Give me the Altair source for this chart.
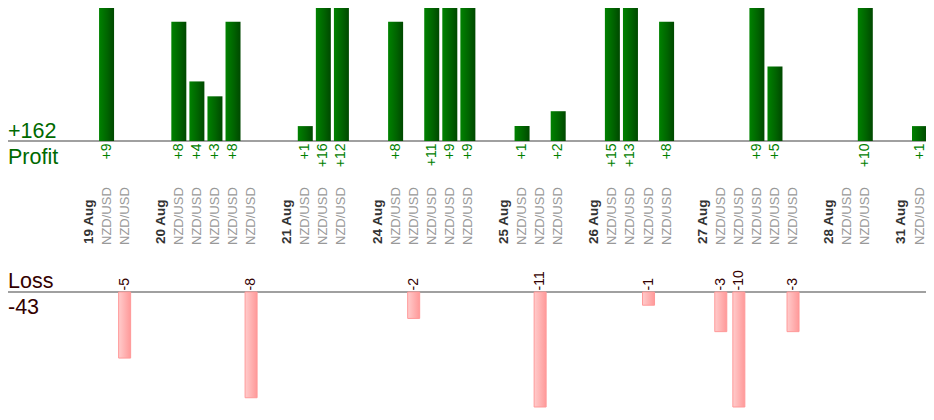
import altair as alt
import pandas as pd

days = ["19 Aug", "20 Aug", "21 Aug", "24 Aug", "25 Aug", "26 Aug", "27 Aug", "28 Aug", "31 Aug"]
trades = [
    [9, -5],
    [8, 4, 3, 8, -8],
    [1, 16, 12],
    [8, -2, 11, 9, 9],
    [1, -11, 2],
    [15, 13, -1, 8],
    [-3, -10, 9, 5, -3],
    [0, 10],
    [1],
]
pair = "NZD/USD"

rows = []
slot = 0
for d, t in zip(days, trades):
    rows.append({"slot": slot, "kind": "date", "label": d, "pnl": 0})
    slot += 1
    for v in t:
        rows.append({"slot": slot, "kind": "trade", "label": pair, "pnl": v})
        slot += 1
    slot += 1
df = pd.DataFrame(rows)
last_slot = int(df["slot"].max())

trades_df = df[df.kind == "trade"]
prof = trades_df[trades_df.pnl > 0].copy()
prof["txt"] = prof.pnl.map(lambda v: f"+{v}")
loss = trades_df[trades_df.pnl < 0].copy()
loss["mag"] = -loss.pnl
loss["txt"] = loss.pnl.map(lambda v: f"{v}")
dates_df = df[df.kind == "date"]

total_profit = int(prof.pnl.sum())
total_loss = int(loss.pnl.sum())

W, H = 918, 404
FONT = "Liberation Sans"
xs = alt.X("slot:Q", scale=alt.Scale(domain=[0, last_slot], range=[80.5, 911.5], nice=False, zero=False, padding=0),
           axis=None)

green_grad = alt.Gradient(
    gradient="linear",
    stops=[alt.GradientStop(color="#008200", offset=0), alt.GradientStop(color="#006400", offset=0.55),
           alt.GradientStop(color="#004800", offset=1)],
    x1=0, x2=1, y1=0, y2=0,
)
pink_grad = alt.Gradient(
    gradient="linear",
    stops=[alt.GradientStop(color="#ffcccc", offset=0), alt.GradientStop(color="#ff9999", offset=1)],
    x1=0, x2=1, y1=0, y2=0,
)

one = pd.DataFrame({"a": [0]})

base_line_p = alt.Chart(one).mark_rule(color="#808080", strokeWidth=1.5).encode(
    x=alt.value(0), x2=alt.value(W), y=alt.value(133))
base_line_l = alt.Chart(one).mark_rule(color="#808080", strokeWidth=1.5).encode(
    x=alt.value(0), x2=alt.value(W), y=alt.value(284))

pbars = alt.Chart(prof).mark_bar(width=15, color=green_grad).encode(
    x=xs,
    y=alt.Y("pnl:Q", scale=alt.Scale(domain=[0, 8.93], range=[133, 0], clamp=True, nice=False, padding=0),
            axis=None),
)
lbars = alt.Chart(loss).mark_bar(width=12, color=pink_grad, stroke="#ff9999", strokeWidth=1).encode(
    x=xs,
    y=alt.Y("mag:Q", scale=alt.Scale(domain=[0, 8.7], range=[284, 399], clamp=True, nice=False, padding=0),
            axis=None),
)

ptext = alt.Chart(prof).mark_text(angle=270, align="right", baseline="middle", fontSize=14,
                                  color="#008000", font=FONT).encode(
    x=xs, y=alt.value(135.5), text="txt:N")
ltext = alt.Chart(loss).mark_text(angle=270, align="left", baseline="middle", fontSize=14,
                                  color="#330000", font=FONT).encode(
    x=xs, y=alt.value(282.5), text="txt:N")

dtext = alt.Chart(dates_df).mark_text(angle=270, align="left", baseline="middle", fontSize=13.5,
                                      fontWeight="bold", color="#333333", font=FONT).encode(
    x=xs, y=alt.value(236), text="label:N")
pairtext = alt.Chart(trades_df).mark_text(angle=270, align="left", baseline="middle", fontSize=13,
                                          color="#999999", font=FONT).encode(
    x=xs, y=alt.value(237), text="label:N")

summary = pd.DataFrame({
    "txt": [f"+{total_profit}", "Profit", "Loss", f"{total_loss}"],
    "yy": [129.5, 155.5, 279.5, 305.5],
    "grp": ["p", "p", "l", "l"],
})
stext = alt.Chart(summary).mark_text(align="left", baseline="alphabetic", fontSize=21.5, font=FONT).encode(
    x=alt.value(0),
    y=alt.Y("yy:Q", scale=alt.Scale(domain=[0, H], range=[0, H], nice=False, zero=False, padding=0), axis=None),
    text="txt:N",
    color=alt.Color("grp:N", scale=alt.Scale(domain=["p", "l"], range=["#006a00", "#330000"]), legend=None),
)

chart = alt.layer(
    base_line_p, base_line_l, pbars, lbars, ptext, ltext, dtext, pairtext, stext
).resolve_scale(y="independent").properties(
    width=W, height=H, padding=0, autosize=alt.AutoSizeParams(type="none")
).configure_view(stroke=None)

chart.save("out.html", embed_options={"renderer": "svg", "actions": False})
